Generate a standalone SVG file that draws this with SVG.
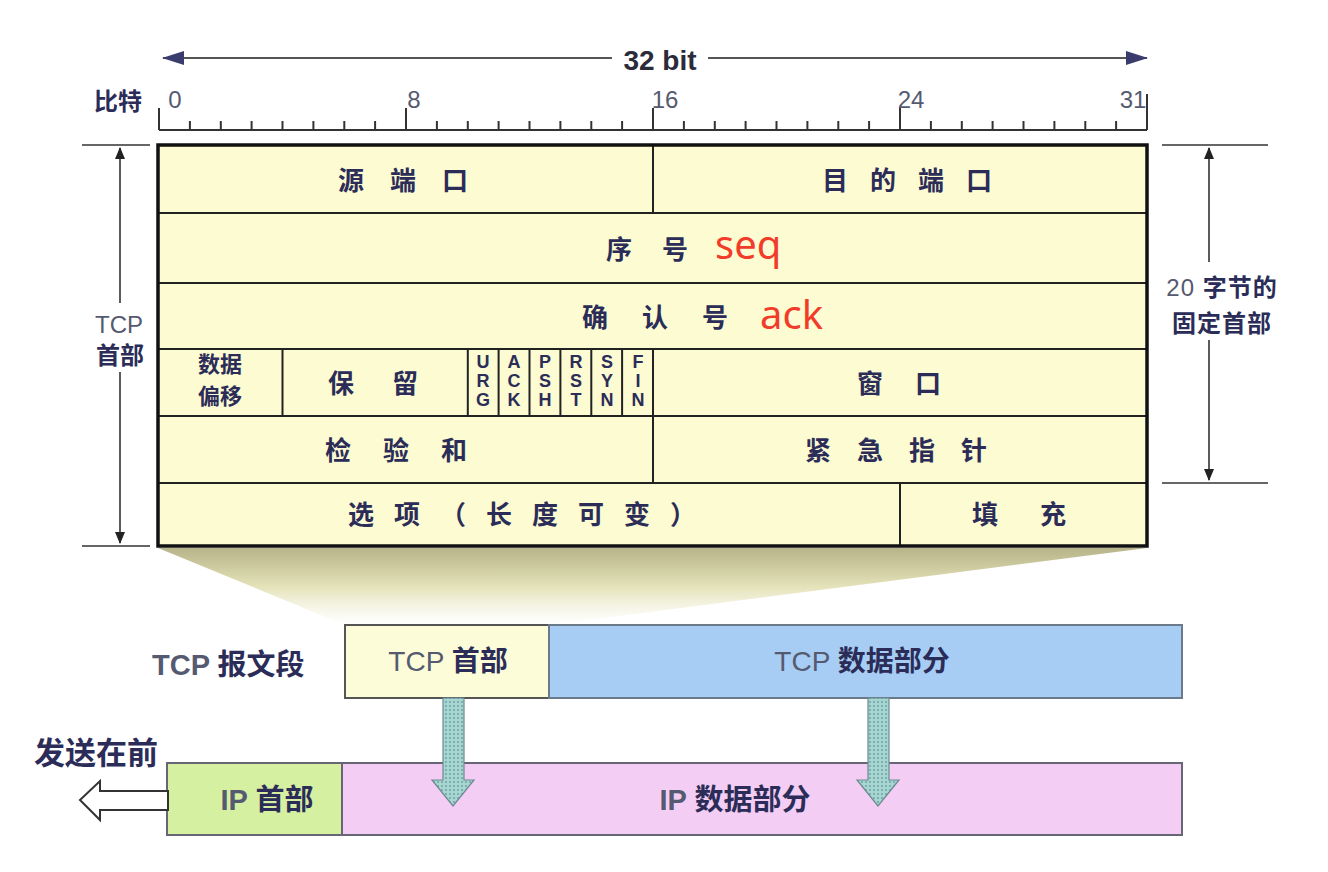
<svg xmlns="http://www.w3.org/2000/svg" width="1328" height="872" viewBox="0 0 1328 872">
<defs>
<style>
.cn{font-family:"Noto Sans CJK SC","Noto Sans",sans-serif;font-weight:bold;fill:#2b2d58}
.lt{font-family:"Liberation Sans","Noto Sans",sans-serif;fill:#555a70}
.red{font-family:"Noto Sans","Roboto",sans-serif;fill:#f03c28;font-size:40px}
.grid{stroke:#222;stroke-width:2;fill:none}
.dim{stroke:#333;stroke-width:1.6;fill:none}
.flag{font-family:"Liberation Sans",sans-serif;font-weight:bold;font-size:18px;fill:#2b2d58;text-anchor:middle}
</style>
<marker id="ah" viewBox="0 0 12 10" refX="11" refY="5" markerWidth="12" markerHeight="10" markerUnits="userSpaceOnUse" orient="auto-start-reverse">
<path d="M0,0 L12,5 L0,10 Z" fill="#222"/>
</marker>
<marker id="ahb" viewBox="0 0 22 14" refX="21" refY="7" markerWidth="22" markerHeight="14" markerUnits="userSpaceOnUse" orient="auto-start-reverse">
<path d="M0,0 L22,7 L0,14 Z" fill="#3a3c6e"/>
</marker>
<linearGradient id="fun" x1="0" y1="0" x2="0" y2="1">
<stop offset="0" stop-color="#b8b48a"/>
<stop offset="0.5" stop-color="#e4e2b8"/>
<stop offset="1" stop-color="#ffffff" stop-opacity="0.6"/>
</linearGradient>
<pattern id="dots" width="4" height="4" patternUnits="userSpaceOnUse">
<rect width="4" height="4" fill="#a6d6d2"/>
<circle cx="2" cy="2" r="0.9" fill="#6f9a9c"/>
</pattern>
</defs>
<rect width="1328" height="872" fill="#ffffff"/>

<!-- funnel -->
<polygon id="funnel" points="158,548 1147,548 549,625 345,625" fill="url(#fun)"/>

<!-- top 32 bit ruler -->
<g id="ruler">
<line x1="163" y1="58" x2="612" y2="58" stroke="#555" stroke-width="2" marker-start="url(#ahb)"/>
<line x1="708" y1="58" x2="1147" y2="58" stroke="#555" stroke-width="2" marker-end="url(#ahb)"/>
<text x="660" y="70" font-family="Liberation Sans,sans-serif" font-weight="bold" font-size="28" fill="#2b2b3a" text-anchor="middle">32 bit</text>
<text x="94" y="110" class="cn" font-size="24">比特</text>
<text x="175" y="108" class="lt" font-size="24" text-anchor="middle">0</text>
<text x="414" y="108" class="lt" font-size="24" text-anchor="middle">8</text>
<text x="665" y="108" class="lt" font-size="24" text-anchor="middle">16</text>
<text x="911" y="108" class="lt" font-size="24" text-anchor="middle">24</text>
<text x="1133" y="108" class="lt" font-size="24" text-anchor="middle">31</text>
<line x1="159" y1="130" x2="1147" y2="130" stroke="#333" stroke-width="2"/>
<path stroke="#333" stroke-width="2" d="M159,108V130 M406,108V130 M653,108V130 M900,108V130 M1147,94V130
M189.9,121V130 M220.8,121V130 M251.6,121V130 M282.5,121V130 M313.4,121V130 M344.3,121V130 M375.1,121V130
M436.9,121V130 M467.8,121V130 M498.6,121V130 M529.5,121V130 M560.4,121V130 M591.3,121V130 M622.1,121V130
M683.9,121V130 M714.8,121V130 M745.6,121V130 M776.5,121V130 M807.4,121V130 M838.3,121V130 M869.1,121V130
M930.9,121V130 M961.8,121V130 M992.6,121V130 M1023.5,121V130 M1054.4,121V130 M1085.3,121V130 M1116.1,121V130"/>
</g>

<!-- header table -->
<g id="tcp-header">
<rect x="158" y="145" width="989" height="401" fill="#fdfbd2"/>
<path class="grid" d="M158,213H1147 M158,283H1147 M158,349H1147 M158,416H1147 M158,483H1147
M653,145V213 M282.5,349V416 M467.8,349V416 M498.6,349V416 M529.5,349V416 M560.4,349V416 M591.3,349V416 M622.1,349V416 M653,349V483 M900,483V546"/>
<rect x="158" y="145" width="989" height="401" fill="none" stroke="#111" stroke-width="3.5"/>
</g>
<g id="f-src"><text class="cn" x="416" y="190" font-size="26" letter-spacing="26" text-anchor="middle">源端口</text></g>
<g id="f-dst"><text class="cn" x="918" y="190" font-size="26" letter-spacing="22" text-anchor="middle">目的端口</text></g>
<g id="f-seq"><text class="cn" x="662" y="259" font-size="26" letter-spacing="30" text-anchor="middle">序号</text><text class="red" x="715" y="259">seq</text></g>
<g id="f-ack"><text class="cn" x="672" y="327" font-size="26" letter-spacing="34" text-anchor="middle">确认号</text><text class="red" x="760" y="329">ack</text></g>
<g id="f-off"><text class="cn" x="220" y="372" font-size="22" text-anchor="middle">数据</text><text class="cn" x="220" y="404" font-size="22" text-anchor="middle">偏移</text></g>
<g id="f-res"><text class="cn" x="392" y="393" font-size="26" letter-spacing="38" text-anchor="middle">保留</text></g>
<g id="f-flags">
<text class="flag" x="483" y="368">U</text><text class="flag" x="483" y="387">R</text><text class="flag" x="483" y="406">G</text>
<text class="flag" x="514" y="368">A</text><text class="flag" x="514" y="387">C</text><text class="flag" x="514" y="406">K</text>
<text class="flag" x="545" y="368">P</text><text class="flag" x="545" y="387">S</text><text class="flag" x="545" y="406">H</text>
<text class="flag" x="576" y="368">R</text><text class="flag" x="576" y="387">S</text><text class="flag" x="576" y="406">T</text>
<text class="flag" x="607" y="368">S</text><text class="flag" x="607" y="387">Y</text><text class="flag" x="607" y="406">N</text>
<text class="flag" x="638" y="368">F</text><text class="flag" x="638" y="387">I</text><text class="flag" x="638" y="406">N</text>
</g>
<g id="f-win"><text class="cn" x="915" y="393" font-size="26" letter-spacing="32" text-anchor="middle">窗口</text></g>
<g id="f-chk"><text class="cn" x="412" y="460" font-size="26" letter-spacing="32" text-anchor="middle">检验和</text></g>
<g id="f-urg"><text class="cn" x="909" y="460" font-size="26" letter-spacing="26" text-anchor="middle">紧急指针</text></g>
<g id="f-opt"><text class="cn" x="532" y="524" font-size="26" letter-spacing="20" text-anchor="middle">选项（长度可变）</text></g>
<g id="f-pad"><text class="cn" x="1040" y="524" font-size="26" letter-spacing="42" text-anchor="middle">填充</text></g>

<!-- left dimension -->
<g id="dim-left">
<line class="dim" x1="82" y1="145" x2="150" y2="145"/>
<line class="dim" x1="82" y1="546" x2="150" y2="546"/>
<line class="dim" x1="120" y1="148" x2="120" y2="303" marker-start="url(#ah)"/>
<line class="dim" x1="120" y1="372" x2="120" y2="543" marker-end="url(#ah)"/>
<text class="lt" x="119" y="333" font-size="24" text-anchor="middle" fill="#4a4d70">TCP</text>
<text class="cn" x="120" y="364" font-size="24" text-anchor="middle">首部</text>
</g>

<!-- right dimension -->
<g id="dim-right">
<line class="dim" x1="1162" y1="145" x2="1268" y2="145"/>
<line class="dim" x1="1162" y1="483" x2="1268" y2="483"/>
<line class="dim" x1="1209" y1="148" x2="1209" y2="262" marker-start="url(#ah)"/>
<line class="dim" x1="1209" y1="340" x2="1209" y2="480" marker-end="url(#ah)"/>
<text x="1222" y="296" font-size="24" letter-spacing="1" text-anchor="middle"><tspan class="lt" fill="#4a4d70">20 </tspan><tspan class="cn">字节的</tspan></text>
<text class="cn" x="1222" y="332" font-size="24" letter-spacing="1" text-anchor="middle">固定首部</text>
</g>

<!-- TCP segment -->
<g id="tcp-seg">
<text x="152" y="675" font-size="29"><tspan class="lt" font-weight="bold" fill="#3a3c50">TCP </tspan><tspan class="cn" fill="#3a3c50">报文段</tspan></text>
</g>
<g id="tcp-hdr-box">
<rect x="345" y="625" width="204" height="73" fill="#fdfcd8" stroke="#555" stroke-width="2"/>
<text x="448" y="671" font-size="28" text-anchor="middle"><tspan class="lt" fill="#5a5d6e">TCP </tspan><tspan class="cn">首部</tspan></text>
</g>
<g id="tcp-data-box">
<rect x="549" y="625" width="633" height="73" fill="#a7cdf4" stroke="#6a7a8a" stroke-width="2"/>
<text x="862" y="671" font-size="28" text-anchor="middle"><tspan class="lt" fill="#4a5a78">TCP </tspan><tspan class="cn">数据部分</tspan></text>
</g>

<!-- IP datagram -->
<g id="ip-hdr-box">
<rect x="167" y="763" width="175" height="72" fill="#d6f0a2" stroke="#667" stroke-width="2"/>
<text x="267" y="810" font-size="29" text-anchor="middle"><tspan class="lt" font-weight="bold" fill="#2b2d58">IP </tspan><tspan class="cn">首部</tspan></text>
</g>
<g id="ip-data-box">
<rect x="342" y="763" width="840" height="72" fill="#f4cdf4" stroke="#667" stroke-width="2"/>
<text x="735" y="810" font-size="29" text-anchor="middle"><tspan class="lt" font-weight="bold" fill="#2b2d58">IP </tspan><tspan class="cn">数据部分</tspan></text>
</g>
<g id="send-first">
<text class="cn" x="34" y="764" font-size="31">发送在前</text>
<polygon points="80,800 100,781 100,791 168,791 168,810 100,810 100,820" fill="#ffffff" stroke="#333" stroke-width="2"/>
</g>

<!-- connectors -->
<g id="connectors">
<polygon points="443,698 464,698 464,780 474,780 453,806 432,780 443,780" fill="url(#dots)" stroke="#6a8a90" stroke-width="1.2"/>
<polygon points="868,698 889,698 889,780 899,780 878,806 857,780 868,780" fill="url(#dots)" stroke="#6a8a90" stroke-width="1.2"/>
</g>
</svg>
